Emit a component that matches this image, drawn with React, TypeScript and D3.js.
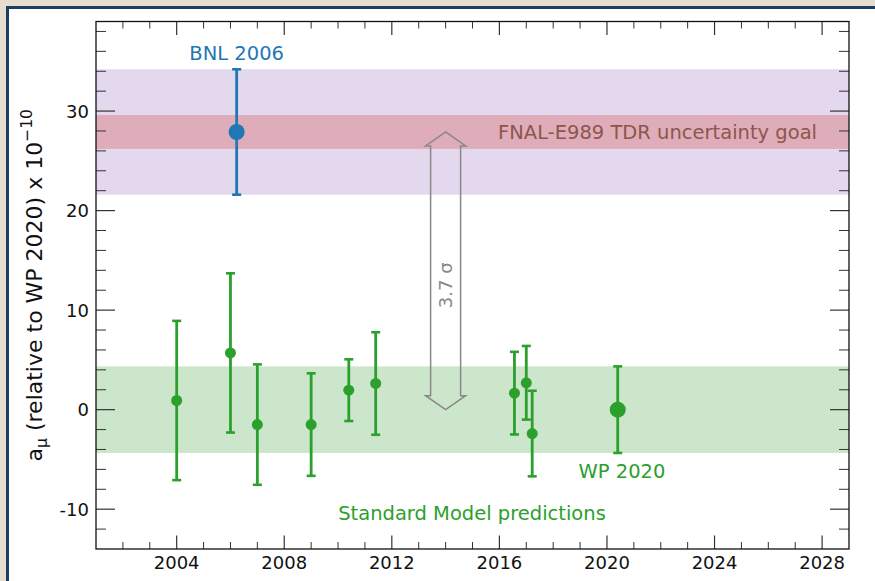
import React from 'react';
import * as d3 from 'd3';

// Standard Model predictions (relative to WP 2020), units of 1e-10
const smYears = [2004.0, 2006.0, 2007.0, 2009.0, 2010.4, 2011.4, 2016.56, 2017.0, 2017.22];
const smValues = [0.92, 5.7, -1.5, -1.5, 1.96, 2.63, 1.66, 2.7, -2.4];
const smErrors = [8.0, 8.0, 6.05, 5.15, 3.1, 5.15, 4.15, 3.7, 4.3];

const wpYear = 2020.4;
const wpValue = 0;
const wpError = 4.35;

const bnlYear = 2006.23;
const bnlValue = 27.9;
const bnlError = 6.3;
const fnalGoalError = 1.7;

const xMajorTicks = [2004, 2008, 2012, 2016, 2020, 2024, 2028];
const yMajorTicks = [-10, 0, 10, 20, 30];

const W = 875;
const H = 581;
const FONT = '"DejaVu Sans", Verdana, sans-serif';
const GREEN = '#2ca02c';
const BLUE = '#1f77b4';

export default function App() {
  const margin = { left: 96, right: 849, top: 21.5, bottom: 549 };
  const x = d3.scaleLinear().domain([2001, 2029]).range([margin.left, margin.right]);
  const y = d3.scaleLinear().domain([-14, 39]).range([margin.bottom, margin.top]);

  const xMinor = d3.range(2002, 2029, 1).filter((v) => !xMajorTicks.includes(v));
  const yMinor = d3.range(-12, 39, 2).filter((v) => !yMajorTicks.includes(v));

  const bandRect = (lo: number, hi: number, fill: string) => (
    <rect x={margin.left} width={margin.right - margin.left} y={y(hi)} height={y(lo) - y(hi)} fill={fill} />
  );

  const errBar = (xv: number, v: number, e: number, color: string, r: number, key: string) => {
    const cx = x(xv);
    return (
      <g key={key}>
        <line x1={cx} x2={cx} y1={y(v - e)} y2={y(v + e)} stroke={color} strokeWidth={2.8} />
        <line x1={cx - 4.5} x2={cx + 4.5} y1={y(v + e)} y2={y(v + e)} stroke={color} strokeWidth={2.6} />
        <line x1={cx - 4.5} x2={cx + 4.5} y1={y(v - e)} y2={y(v - e)} stroke={color} strokeWidth={2.6} />
        <circle cx={cx} cy={y(v)} r={r} fill={color} />
      </g>
    );
  };

  // double-headed arrow from WP 2020 to BNL
  const ax = x(2014);
  const aTop = y(bnlValue);
  const aBot = y(wpValue);
  const hs = 15, hh = 20, hl = 14;
  const arrowPts = [
    [ax, aTop], [ax + hh, aTop + hl], [ax + hs, aTop + hl], [ax + hs, aBot - hl], [ax + hh, aBot - hl],
    [ax, aBot], [ax - hh, aBot - hl], [ax - hs, aBot - hl], [ax - hs, aTop + hl], [ax - hh, aTop + hl],
  ].map((p) => p.join(',')).join(' ');

  return (
    <svg width={W} height={H} style={{ position: 'absolute', left: 0, top: 0 }} fontFamily={FONT}>
      <rect x={0} y={0} width={W} height={H} fill="#e7ddcf" />
      <rect x={7.5} y={7.5} width={W} height={H} fill="#ffffff" stroke="#1e3d64" strokeWidth={3} />

      {bandRect(bnlValue - bnlError, bnlValue + bnlError, '#e4d8ee')}
      {bandRect(bnlValue - fnalGoalError, bnlValue + fnalGoalError, '#dfacb9')}
      {bandRect(wpValue - wpError, wpValue + wpError, '#cce6cb')}

      <polygon points={arrowPts} fill="none" stroke="#888888" strokeWidth={1.5} />
      <text
        transform={`translate(${ax + 6.5},${y(12.5)}) rotate(-90)`}
        textAnchor="middle"
        fontSize={18}
        fill="#888888"
      >
        3.7 σ
      </text>

      {smYears.map((yr, i) => errBar(yr, smValues[i], smErrors[i], GREEN, 5.5, `sm${i}`))}
      {errBar(wpYear, wpValue, wpError, GREEN, 8, 'wp')}
      {errBar(bnlYear, bnlValue, bnlError, BLUE, 8, 'bnl')}

      <text x={x(bnlYear)} y={60} textAnchor="middle" fontSize={19.5} fill={BLUE}>BNL 2006</text>
      <text x={817} y={y(bnlValue) + 7} textAnchor="end" fontSize={19.5} fill="#8c564b">
        FNAL-E989 TDR uncertainty goal
      </text>
      <text x={622} y={478} textAnchor="middle" fontSize={19.5} fill={GREEN}>WP 2020</text>
      <text x={472} y={520} textAnchor="middle" fontSize={19.5} fill={GREEN}>Standard Model predictions</text>

      {/* ticks */}
      {xMajorTicks.map((t) => (
        <g key={`xm${t}`}>
          <line x1={x(t)} x2={x(t)} y1={margin.bottom} y2={margin.bottom - 13.5} stroke="#333" strokeWidth={1.2} />
          <line x1={x(t)} x2={x(t)} y1={margin.top} y2={margin.top + 13.5} stroke="#333" strokeWidth={1.2} />
          <text x={x(t)} y={568.5} textAnchor="middle" fontSize={18} fill="#111">{t}</text>
        </g>
      ))}
      {xMinor.map((t) => (
        <g key={`xn${t}`}>
          <line x1={x(t)} x2={x(t)} y1={margin.bottom} y2={margin.bottom - 7} stroke="#333" strokeWidth={1} />
          <line x1={x(t)} x2={x(t)} y1={margin.top} y2={margin.top + 7} stroke="#333" strokeWidth={1} />
        </g>
      ))}
      {yMajorTicks.map((t) => (
        <g key={`ym${t}`}>
          <line x1={margin.left} x2={margin.left + 19} y1={y(t)} y2={y(t)} stroke="#333" strokeWidth={1.2} />
          <line x1={margin.right} x2={margin.right - 19} y1={y(t)} y2={y(t)} stroke="#333" strokeWidth={1.2} />
          <text x={89} y={y(t) + 6.5} textAnchor="end" fontSize={18} fill="#111">{t}</text>
        </g>
      ))}
      {yMinor.map((t) => (
        <g key={`yn${t}`}>
          <line x1={margin.left} x2={margin.left + 10} y1={y(t)} y2={y(t)} stroke="#333" strokeWidth={1} />
          <line x1={margin.right} x2={margin.right - 10} y1={y(t)} y2={y(t)} stroke="#333" strokeWidth={1} />
        </g>
      ))}

      <rect
        x={margin.left}
        y={margin.top}
        width={margin.right - margin.left}
        height={margin.bottom - margin.top}
        fill="none"
        stroke="#111"
        strokeWidth={1.3}
      />

      <text
        transform={`translate(42,${(margin.top + margin.bottom) / 2}) rotate(-90)`}
        textAnchor="middle"
        fontSize={22}
        fill="#111"
      >
        a<tspan fontSize={15.5} dy={5}>μ</tspan>
        <tspan dy={-5}> (relative to WP 2020) x 10</tspan>
        <tspan fontSize={15.5} dy={-10}>−10</tspan>
      </text>
    </svg>
  );
}
